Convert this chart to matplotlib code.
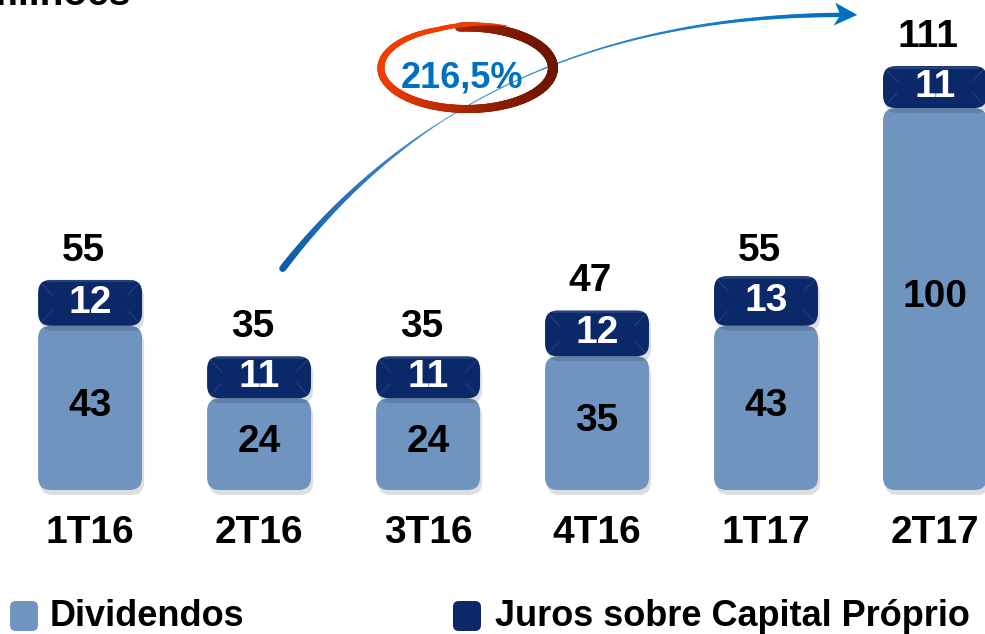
import numpy as np
import matplotlib.pyplot as plt
import matplotlib.colors as mcolors
from matplotlib.patches import FancyBboxPatch, Polygon
from matplotlib.collections import LineCollection

plt.rcParams['font.family'] = ['Liberation Sans', 'DejaVu Sans']
plt.rcParams['font.weight'] = 'bold'

# -----------------------------
# dados
# -----------------------------
periodos = ["1T16", "2T16", "3T16", "4T16", "1T17", "2T17"]
dividendos = [43, 24, 24, 35, 43, 100]
jcp = [12, 11, 11, 12, 13, 11]
totais = [55, 35, 35, 47, 55, 111]
crescimento = "216,5%"
legenda = ["Dividendos", "Juros sobre Capital Próprio"]

COR_DIV = "#6F94C0"
COR_JCP = "#0B2868"
FS = 28

# -----------------------------
# figura
# -----------------------------
fig = plt.figure(figsize=(9.85, 6.34), dpi=100)
ax = fig.add_axes([0, 0, 1, 1])
ax.set_xlim(-0.533, 5.296)
ax.set_ylim(-37.7, 128.3)
ax.axis('off')

PX_X = 985 / (5.296 + 0.533)   # pixels por unidade x
PX_Y = 634 / (128.3 + 37.7)    # pixels por unidade y
ASP = PX_X / PX_Y

x = np.arange(len(periodos))
w = 0.615
b1 = ax.bar(x, dividendos, w, color=COR_DIV)
b2 = ax.bar(x, jcp, w, bottom=dividendos, color=COR_JCP)


def arredondar(rect, cor, z, bevel=False):
    x0, y0 = rect.get_x(), rect.get_y()
    ww, hh = rect.get_width(), rect.get_height()
    rect.set_visible(False)
    estilo = "round,pad=0,rounding_size=0.075"
    sombra = FancyBboxPatch((x0 + 0.012, y0 - 1.3), ww, hh, boxstyle=estilo,
                            mutation_aspect=ASP, fc='black', ec='none',
                            alpha=0.13, zorder=z - 1)
    ax.add_patch(sombra)
    ax.add_patch(FancyBboxPatch((x0, y0), ww, hh, boxstyle=estilo,
                                mutation_aspect=ASP, fc=cor, ec='none', zorder=z))
    if bevel:
        dx, dy = 0.085, 4.0
        top, bot = y0 + hh, y0
        for (cx, cy, sx, sy) in [(x0, top, 1, -1), (x0 + ww, top, -1, -1),
                                 (x0, bot, 1, 1), (x0 + ww, bot, -1, 1)]:
            ax.plot([cx + sx * 0.02, cx + sx * dx], [cy + sy * 0.9, cy + sy * dy],
                    color='#2A4886', lw=1.0, alpha=0.6, zorder=z + 0.5,
                    solid_capstyle='round')
        ax.plot([x0 + 0.05, x0 + ww - 0.05], [top - 0.4, top - 0.4], color='#3B5A9A',
                lw=1.5, alpha=0.5, zorder=z + 0.5)


for r in b1:
    arredondar(r, COR_DIV, 3)
for r in b2:
    arredondar(r, COR_JCP, 5, bevel=True)

for i in range(len(x)):
    ax.text(x[i], dividendos[i] / 2 + 0.5, str(dividendos[i]), ha='center', va='center',
            fontsize=FS, color='black', zorder=10)
    ax.text(x[i], dividendos[i] + jcp[i] / 2, str(jcp[i]), ha='center', va='center',
            fontsize=FS, color='white', zorder=10)
    ax.text(x[i] - 0.04, totais[i] + 7.6, str(totais[i]), ha='center', va='center',
            fontsize=FS, color='black', zorder=10)
    ax.text(x[i], -11.3, periodos[i], ha='center', va='center',
            fontsize=FS, color='black', zorder=10)

# -----------------------------
# seta curva 2T16 -> 2T17
# -----------------------------
S = np.array([x[1] + 0.14, totais[1] + 23])
C = np.array([2.30, 124.4])
E = np.array([x[5] - 0.53, 124.4])
t = np.linspace(0, 1, 200)
pts = ((1 - t)[:, None] ** 2) * S + (2 * (1 - t) * t)[:, None] * C + (t[:, None] ** 2) * E
segs = np.stack([pts[:-1], pts[1:]], axis=1)
tm = (t[:-1] + t[1:]) / 2
larg_px = np.where(tm < 0.35, 7 - 6 * (tm / 0.35), 1 + 3.5 * ((tm - 0.35) / 0.65) ** 2)
c1 = np.array(mcolors.to_rgb('#0B5CA8'))
c2 = np.array(mcolors.to_rgb('#6FA6DC'))
c3 = np.array(mcolors.to_rgb('#0070C0'))
mix = np.where(tm < 0.35, tm / 0.35, 1 - (tm - 0.35) / 0.65)
cores = np.where(tm[:, None] < 0.35, c1 + (c2 - c1) * mix[:, None] * 0.7,
                 c3 + (c2 - c3) * mix[:, None] * 0.7)
ax.add_collection(LineCollection(segs, linewidths=larg_px / 1.389, colors=cores,
                                 capstyle='round', zorder=6))
ax.add_patch(Polygon([[E[0] + 0.07, E[1]], [E[0] - 0.06, E[1] + 3.2],
                      [E[0] - 0.03, E[1]], [E[0] - 0.07, E[1] - 2.8]],
                     closed=True, fc='#0070C0', ec='none', zorder=6))

# -----------------------------
# elipse 216,5%
# -----------------------------
cx, cy = 2.23, 110.5
a, b = 86 / PX_X, 41 / PX_Y
th = np.radians(np.linspace(95, -295, 400))
esc = np.where(th < np.radians(-250), 1 + 0.13 * ((np.radians(-250) - th) / np.radians(45)), 1.0)
ex = cx + a * esc * np.cos(th)
ey = cy + b * esc * np.sin(th)
ep = np.column_stack([ex, ey])
esegs = np.stack([ep[:-1], ep[1:]], axis=1)
thm = np.degrees((th[:-1] + th[1:]) / 2)
lw_e = np.interp(-thm, [-95, 0, 90, 180, 270, 295], [9, 10, 8, 7, 4, 0.6])
cor_esc = np.array(mcolors.to_rgb('#6E1400'))
cor_cla = np.array(mcolors.to_rgb('#F23C00'))
m = np.clip((1 - np.cos(np.radians(thm))) / 2, 0, 1) ** 1.3
m = np.where(thm < -180, 1.0, m)
ecores = cor_esc + (cor_cla - cor_esc) * m[:, None]
ax.add_collection(LineCollection(esegs, linewidths=lw_e / 1.389, colors=ecores,
                                 capstyle='round', zorder=7))
ax.text(2.20, 108.0, crescimento, ha='center', va='center', fontsize=26,
        color='#0070C0', zorder=8)

# titulo cortado no topo
fig.text(130 / 985, 1 - 5 / 634, "R$ milhões", ha='right', va='baseline',
         fontsize=FS, color='black')

# -----------------------------
# legenda
# -----------------------------
for (xl, cor, txt, xt) in [(10, COR_DIV, legenda[0], 50), (453, COR_JCP, legenda[1], 495)]:
    ax.add_patch(FancyBboxPatch((xl / 985, 3 / 634), 28 / 985, 30 / 634,
                                boxstyle="round,pad=0,rounding_size=0.006",
                                mutation_aspect=985 / 634, transform=ax.transAxes,
                                fc=cor, ec='none', zorder=5))
    ax.text(xt / 985, 17 / 634, txt, transform=ax.transAxes, ha='left', va='center',
            fontsize=26, color='black')

fig.savefig("out.png", dpi=100)
